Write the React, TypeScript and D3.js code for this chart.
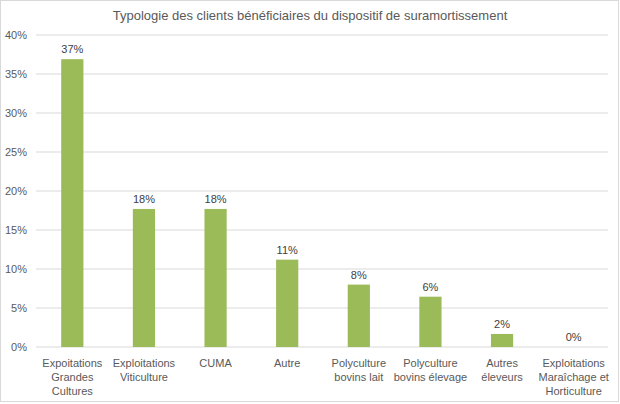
import * as d3 from 'd3';

const categories = [
  ['Expoitations', 'Grandes', 'Cultures'],
  ['Exploitations', 'Viticulture'],
  ['CUMA'],
  ['Autre'],
  ['Polyculture', 'bovins lait'],
  ['Polyculture', 'bovins élevage'],
  ['Autres', 'éleveurs'],
  ['Exploitations', 'Maraîchage et', 'Horticulture'],
];
const values = [36.9, 17.7, 17.7, 11.2, 8.0, 6.45, 1.67, 0];
const valueLabels = ['37%', '18%', '18%', '11%', '8%', '6%', '2%', '0%'];
const yTicks = [0, 5, 10, 15, 20, 25, 30, 35, 40];
const title = 'Typologie des clients bénéficiaires du dispositif de suramortissement';

const W = 620;
const H = 404;
const margin = { top: 35, right: 10, bottom: 57, left: 36.5 };
const font = '"Liberation Sans", Arial, sans-serif';
const textColor = '#595959';

export default function App() {
  const x = d3
    .scaleBand()
    .domain(categories.map((_, i) => String(i)))
    .range([margin.left, W - margin.right - 0.5])
    .paddingInner(0.69)
    .paddingOuter(0.345);
  const y = d3.scaleLinear().domain([0, 40]).range([H - margin.bottom, margin.top]);
  const gx1 = 36;
  const gx2 = 608;

  return (
    <svg
      width={W}
      height={H}
      style={{ position: 'absolute', left: 0, top: 0, fontFamily: font }}
    >
      <rect x={0.5} y={0.5} width={W - 2} height={H - 3} fill="#fff" stroke="#d9d9d9" />
      <text x={310} y={20} textAnchor="middle" fontSize={13} fill={textColor}>
        {title}
      </text>
      {yTicks.map((t) => (
        <g key={t}>
          <line x1={gx1} x2={gx2} y1={y(t)} y2={y(t)} stroke="#d9d9d9" strokeWidth={1} />
          <text
            x={27}
            y={y(t)}
            dy="0.35em"
            textAnchor="end"
            fontSize={11}
            fill={textColor}
          >
            {t}%
          </text>
        </g>
      ))}
      {values.map((v, i) => {
        const bx = x(String(i)) as number;
        const cx = bx + x.bandwidth() / 2;
        return (
          <g key={i}>
            {v > 0 && (
              <rect x={bx} y={y(v)} width={x.bandwidth()} height={y(0) - y(v)} fill="#9bbb59" />
            )}
            <text x={cx} y={y(v) - 6} textAnchor="middle" fontSize={11} fill="#404040">
              {valueLabels[i]}
            </text>
            {categories[i].map((line, j) => (
              <text
                key={j}
                x={cx}
                y={366.5 + j * 14}
                textAnchor="middle"
                fontSize={11}
                fill={textColor}
              >
                {line}
              </text>
            ))}
          </g>
        );
      })}
    </svg>
  );
}
